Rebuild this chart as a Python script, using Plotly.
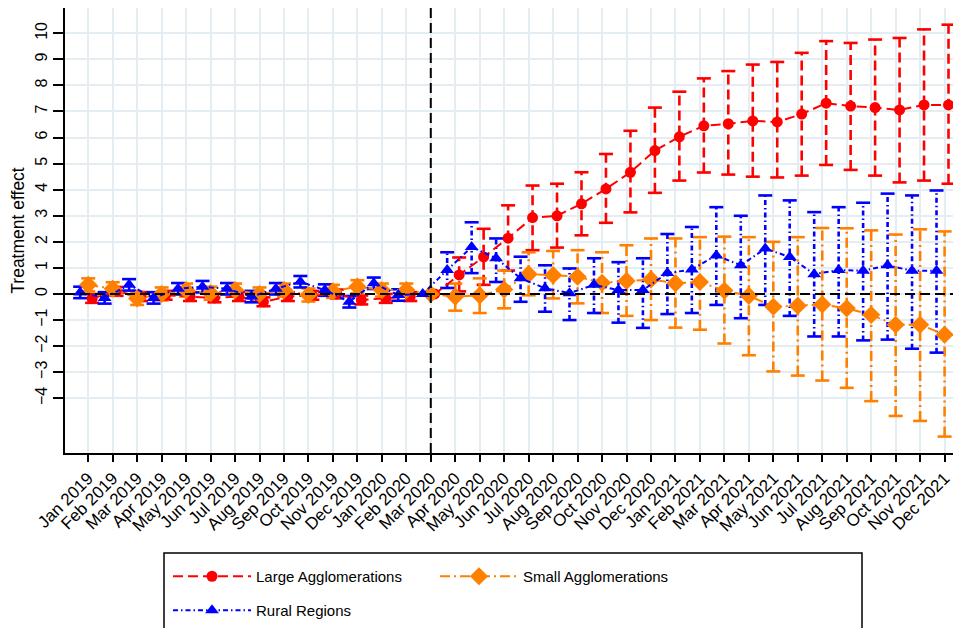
import plotly.graph_objects as go

months = ["Jan 2019", "Feb 2019", "Mar 2019", "Apr 2019", "May 2019", "Jun 2019",
          "Jul 2019", "Aug 2019", "Sep 2019", "Oct 2019", "Nov 2019", "Dec 2019",
          "Jan 2020", "Feb 2020", "Mar 2020", "Apr 2020", "May 2020", "Jun 2020",
          "Jul 2020", "Aug 2020", "Sep 2020", "Oct 2020", "Nov 2020", "Dec 2020",
          "Jan 2021", "Feb 2021", "Mar 2021", "Apr 2021", "May 2021", "Jun 2021",
          "Jul 2021", "Aug 2021", "Sep 2021", "Oct 2021", "Nov 2021", "Dec 2021"]
ref_month = "Mar 2020"

large_val = [-0.17, 0.10, -0.10, -0.05, -0.10, -0.15, -0.10, -0.30, -0.10, -0.05, 0.00, -0.23, -0.17, -0.10,
             0.0,
             0.73, 1.42, 2.14, 2.93, 3.00, 3.46, 4.03, 4.67, 5.50, 6.03, 6.45, 6.53, 6.64, 6.60, 6.90,
             7.32, 7.21, 7.15, 7.06, 7.25, 7.25]
large_hi = [0.00, 0.27, 0.07, 0.12, 0.07, 0.02, 0.07, -0.13, 0.07, 0.12, 0.17, -0.06, 0.00, 0.07,
            0.0,
            1.40, 2.50, 3.40, 4.16, 4.23, 4.67, 5.37, 6.26, 7.15, 7.76, 8.27, 8.55, 8.80, 8.90, 9.25,
            9.70, 9.63, 9.76, 9.82, 10.15, 10.33]
large_lo = [-0.34, -0.07, -0.27, -0.22, -0.27, -0.32, -0.27, -0.47, -0.27, -0.22, -0.17, -0.40, -0.34, -0.27,
            0.0,
            0.10, 0.35, 0.90, 1.68, 1.78, 2.25, 2.73, 3.13, 3.88, 4.35, 4.66, 4.58, 4.50, 4.47, 4.54,
            4.95, 4.76, 4.54, 4.28, 4.35, 4.23]

small_val = [0.35, 0.20, -0.17, 0.00, 0.15, 0.03, 0.15, 0.00, 0.15, -0.04, 0.10, 0.28, 0.15, 0.15,
             0.0,
             -0.10, -0.05, 0.17, 0.76, 0.72, 0.66, 0.43, 0.50, 0.56, 0.41, 0.46, 0.13, -0.07, -0.49, -0.45,
             -0.40, -0.55, -0.80, -1.18, -1.18, -1.56]
small_hi = [0.60, 0.45, 0.08, 0.25, 0.40, 0.28, 0.40, 0.25, 0.40, 0.21, 0.35, 0.53, 0.40, 0.40,
            0.0,
            0.40, 0.60, 0.90, 1.60, 1.65, 1.68, 1.60, 1.87, 2.13, 2.13, 2.18, 2.20, 2.18, 2.00, 2.18,
            2.53, 2.52, 2.44, 2.28, 2.48, 2.40]
small_lo = [0.10, -0.05, -0.42, -0.25, -0.10, -0.22, -0.10, -0.25, -0.10, -0.29, -0.15, 0.03, -0.10, -0.10,
            0.0,
            -0.64, -0.73, -0.55, -0.05, -0.17, -0.36, -0.73, -0.84, -1.00, -1.29, -1.37, -1.90, -2.35, -2.97, -3.13,
            -3.32, -3.60, -4.11, -4.68, -4.87, -5.47]

rural_val = [0.06, -0.15, 0.35, -0.15, 0.20, 0.28, 0.20, -0.10, 0.20, 0.47, 0.15, -0.30, 0.41, -0.04,
             0.0,
             0.92, 1.80, 1.37, 0.60, 0.22, 0.03, 0.35, 0.15, 0.15, 0.80, 0.94, 1.48, 1.10, 1.74, 1.42,
             0.76, 0.92, 0.89, 1.10, 0.89, 0.89]
rural_hi = [0.28, 0.07, 0.57, 0.07, 0.42, 0.50, 0.42, 0.12, 0.42, 0.69, 0.37, -0.08, 0.63, 0.18,
            0.0,
            1.60, 2.75, 2.13, 1.43, 1.10, 0.98, 1.37, 1.22, 1.37, 2.30, 2.57, 3.33, 3.00, 3.78, 3.59,
            3.14, 3.33, 3.50, 3.85, 3.78, 3.97]
rural_lo = [-0.16, -0.37, 0.13, -0.37, -0.02, 0.06, -0.02, -0.32, -0.02, 0.25, -0.07, -0.52, 0.19, -0.26,
            0.0,
            0.23, 0.80, 0.46, -0.30, -0.68, -1.00, -0.73, -1.10, -1.30, -0.77, -0.73, -0.42, -0.93, -0.42, -0.84,
            -1.63, -1.63, -1.78, -1.75, -2.10, -2.25]

yticks = list(range(-4, 11))

FONT = "Liberation Sans, Arial, sans-serif"

series = [
    dict(name="Large Agglomerations", val=large_val, hi=large_hi, lo=large_lo, color="#ff0000",
         symbol="circle", size=11, dash="10px,5px", shift=0.16, legend="legend"),
    dict(name="Small Agglomerations", val=small_val, hi=small_hi, lo=small_lo, color="#ff8000",
         symbol="diamond", size=14, dash="10px,4px,2px,4px", shift=0.0, legend="legend"),
    dict(name="Rural Regions", val=rural_val, hi=rural_hi, lo=rural_lo, color="#0000ff",
         symbol="triangle-up", size=12, dash="5px,3px,1.5px,3px", shift=-0.33, legend="legend2"),
]

fig = go.Figure()
idx = list(range(len(months)))

for s in series:
    xs = [i + s["shift"] for i in idx]
    ex, ey, cx, cy = [], [], [], []
    for x, lo, hi in zip(xs, s["lo"], s["hi"]):
        if hi == lo:
            continue
        ex += [x, x, None]
        ey += [lo, hi, None]
        cx += [x, x]
        cy += [lo, hi]
    fig.add_trace(go.Scatter(x=ex, y=ey, mode="lines", showlegend=False, hoverinfo="skip",
                             line=dict(color=s["color"], width=2.6, dash=s["dash"])))
    fig.add_trace(go.Scatter(x=cx, y=cy, mode="markers", showlegend=False, hoverinfo="skip",
                             marker=dict(symbol="line-ew", size=10,
                                         line=dict(color=s["color"], width=2.6))))

for s in series:
    xs = [i + s["shift"] for i in idx]
    fig.add_trace(go.Scatter(x=xs, y=s["val"], mode="lines+markers", name=s["name"],
                             legend=s["legend"],
                             line=dict(color=s["color"], width=2, dash=s["dash"]),
                             marker=dict(symbol=s["symbol"], size=s["size"], color=s["color"])))

ref_x = months.index(ref_month)

fig.add_shape(type="line", xref="paper", x0=0, x1=1, yref="y", y0=0, y1=0,
              line=dict(color="black", width=2, dash="10px,5px"), layer="above")
fig.add_shape(type="line", xref="x", x0=ref_x, x1=ref_x, yref="paper", y0=0, y1=1,
              line=dict(color="black", width=2, dash="10px,5px"), layer="above")

# page body has an 8px margin: work in target-screen coordinates, then shift
OFF = 8
FW, FH = 961 - OFF, 628 - OFF
L, R, T, B = 65, 960, 8, 453          # plot area in screen pixels
W, H = R - L, B - T
def px(x): return (x - L) / W
def py(y): return (B - y) / H
def cx_(x): return (x - OFF) / FW
def cy_(y): return 1 - (y - OFF) / FH

fig.add_shape(type="rect", xref="paper", yref="paper",
              x0=px(164), x1=px(862), y0=py(553), y1=py(640),
              line=dict(color="black", width=1.5), fillcolor="rgba(0,0,0,0)")

LEGFONT = dict(size=15, family=FONT)

fig.update_layout(
    width=FW, height=FH,
    margin=dict(l=L - OFF, r=961 - R, t=T - OFF, b=628 - B),
    paper_bgcolor="white", plot_bgcolor="white",
    font=dict(family=FONT, size=16, color="black"),
    xaxis=dict(range=[-0.95, 35.63], tickmode="array", tickvals=idx, ticktext=months,
               tickangle=-45, ticks="outside", ticklen=7, tickwidth=1.5, tickcolor="black",
               showline=True, linecolor="black", linewidth=1.5,
               showgrid=True, gridcolor="#e4edf2", gridwidth=1.5, zeroline=False,
               tickfont=dict(size=17), automargin=False),
    yaxis=dict(range=[-6.1, 10.97], tickmode="array", tickvals=yticks,
               tickangle=-90, ticks="outside", ticklen=10, tickwidth=1.5, tickcolor="black",
               showline=True, linecolor="black", linewidth=1.5,
               showgrid=True, gridcolor="#e4edf2", gridwidth=1.5, zeroline=False,
               title=dict(text="Treatment effect", font=dict(size=17.5), standoff=6),
               tickfont=dict(size=16), automargin=False),
    legend=dict(orientation="h", xref="container", yref="container",
                x=cx_(168), y=cy_(560), xanchor="left", yanchor="top",
                itemwidth=78, entrywidth=174, font=LEGFONT,
                bgcolor="rgba(0,0,0,0)", traceorder="normal"),
    legend2=dict(orientation="h", xref="container", yref="container",
                 x=cx_(168), y=cy_(594), xanchor="left", yanchor="top",
                 itemwidth=78, font=LEGFONT, bgcolor="rgba(0,0,0,0)"),
    showlegend=True,
)

fig.write_html("out.html")
